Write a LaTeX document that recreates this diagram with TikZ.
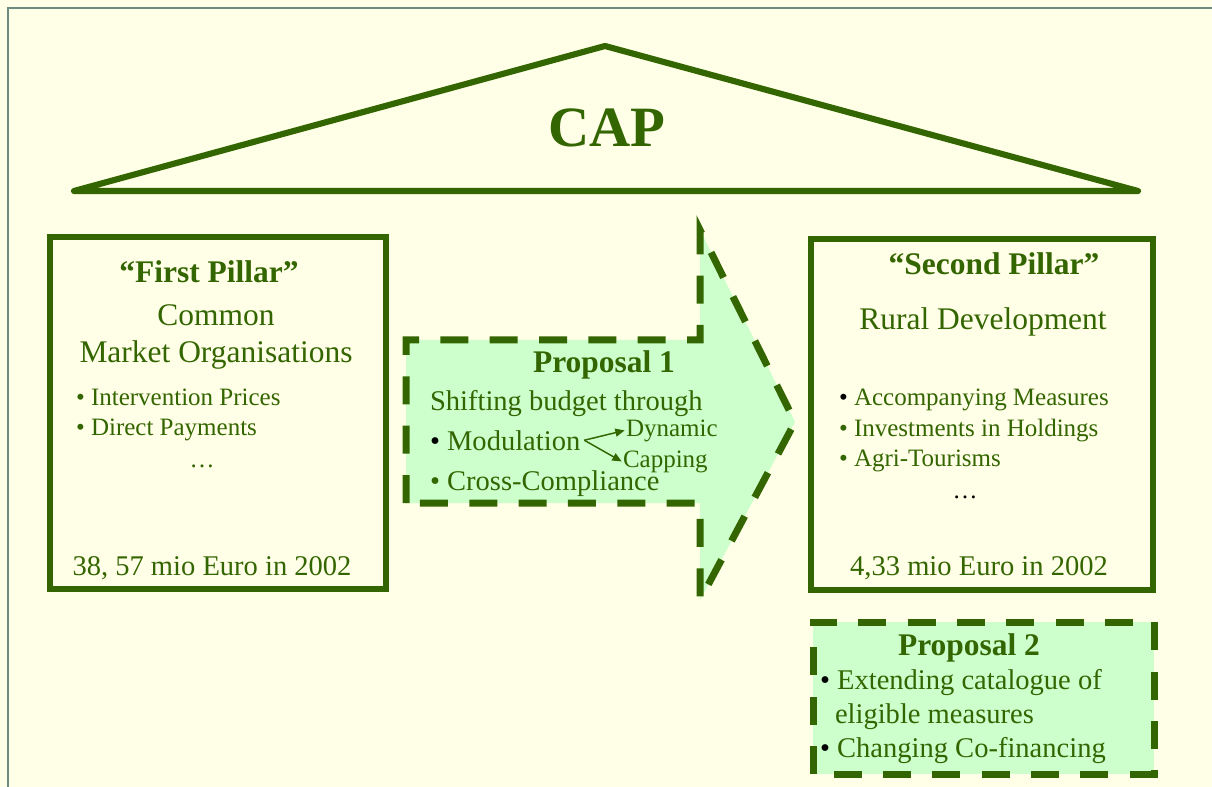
\documentclass[tikz,border=0pt]{standalone}
\usepackage{fontspec}
\setmainfont{Liberation Serif}
\usetikzlibrary{arrows.meta}
\definecolor{capgreen}{HTML}{336600}
\definecolor{panelfill}{HTML}{CCFFCC}
\definecolor{paper}{HTML}{FFFEE6}
\definecolor{framec}{HTML}{6A8E7E}
\newcommand{\setfs}[1]{\fontsize{#1}{#1}\selectfont}
\begin{document}
\begin{tikzpicture}[x=0.75pt,y=-0.75pt,
  lbl/.style={inner sep=0pt, outer sep=0pt, text=capgreen, anchor=base},
  lblw/.style={lbl, anchor=base west},
  title/.style={lbl, font=\bfseries\setfs{42.75}},
  head/.style={lbl, font=\bfseries\setfs{23.6}},
  big/.style={lbl, font=\setfs{23.6}},
  mid/.style={font=\setfs{21.4}},
  small/.style={font=\setfs{18.75}},
  pillar/.style={draw=capgreen, line width=5pt},
  proposal/.style={draw=capgreen, fill=panelfill, line width=5.25pt,
    dash pattern=on 21pt off 16pt},
  branch/.style={draw=capgreen, line width=1.1pt,
    -{Triangle[length=7pt,width=6pt]}}
]
% page and outer frame
\fill[paper] (0,0) rectangle (1212,787);
\useasboundingbox (0,0) rectangle (1212,787);
\draw[framec, line width=1.5pt] (8,787) -- (8,8) -- (1212,8);

% roof
\draw[capgreen, line width=4.6pt, line join=round, line cap=round]
  (74,191) -- (605,46) -- (1138,191) -- cycle;
\node[title] (cap) at (607,147) {CAP};

% first pillar
\draw[pillar] (50,237) rectangle (386,589);
\node[head] (fp) at (209,283) {“First Pillar”};
\node[big] (cmo1) at (216,326) {Common};
\node[big] (cmo2) at (216,363) {Market Organisations};
\node[lblw, small] (ip) at (76,405) {• Intervention Prices};
\node[lblw, small] (dp) at (76,435) {• Direct Payments};
\node[lbl, small] (fpdots) at (202,467) {…};
\node[lbl, mid] (fpsum) at (212,575) {38, 57 mio Euro in 2002};

% second pillar
\draw[pillar] (811,239) rectangle (1153,590);
\node[head] (sp) at (994,275) {“Second Pillar”};
\node[big] (rd) at (983,330) {Rural Development};
\node[lblw, small] (am) at (839,405) {{\color{black}•} Accompanying Measures};
\node[lblw, small] (ih) at (839,436) {• Investments in Holdings};
\node[lblw, small] (at) at (839,466) {• Agri-Tourisms};
\node[lbl, small, text=black] (spdots) at (965,498) {…};
\node[lbl, mid] (spsum) at (979,575) {4,33 mio Euro in 2002};

% proposal 1: budget shift arrow
\path[proposal] (406,503) -- (406,340) -- (700,340) -- (700,230)
  -- (795,422) -- (700,600) -- (700,503) -- cycle;
\node[lbl, font=\bfseries\setfs{23.6}] (p1) at (604,373) {Proposal 1};
\node[lblw, mid] (shift) at (430,410) {Shifting budget through};
\node[lblw, mid] (mod) at (430,450) {{\color{black}•} Modulation};
\node[lblw, small] (dyn) at (626,436) {Dynamic};
\node[lblw, small] (capp) at (623,467) {Capping};
\node[lblw, mid] (cc) at (430,490) {• Cross-Compliance};
\draw[branch] ([xshift=3pt]mod.east) -- ([xshift=-1pt]dyn.west);
\draw[branch] ([xshift=3pt]mod.east) -- ([xshift=-1pt]capp.west);

% proposal 2
\path[proposal] (813,774) -- (813,622) -- (1154,622) -- (1154,774) -- cycle;
\node[lbl, font=\bfseries\setfs{23.6}] (p2) at (969,655) {Proposal 2};
\node[lblw, mid] (ext) at (820,689) {{\color{black}•} Extending catalogue of};
\node[lblw, mid] (elig) at (835,723) {eligible measures};
\node[lblw, mid] (cofin) at (820,757) {{\color{black}•} Changing Co-financing};
\end{tikzpicture}
\end{document}
